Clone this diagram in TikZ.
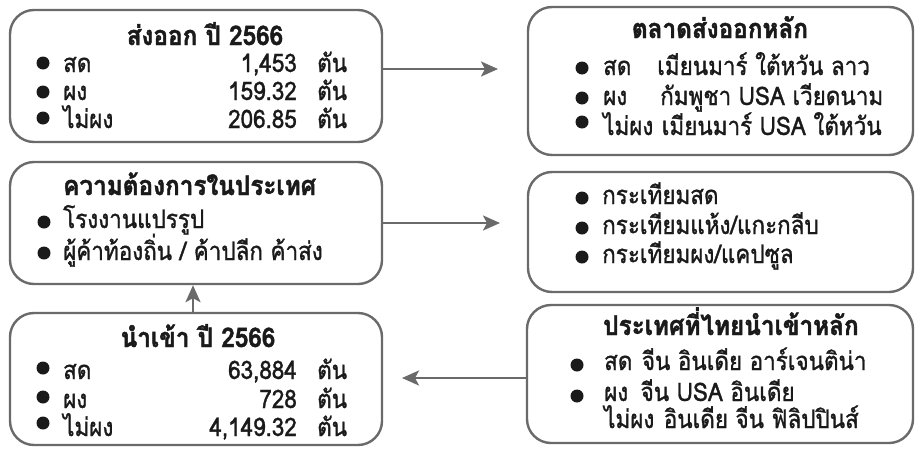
\documentclass[tikz,border=0pt]{standalone}
\usepackage{fontspec}
\setmainfont[Script=Thai, FakeStretch=0.88, FakeBold=1.2, BoldFeatures={FakeStretch=0.9, FakeBold=1.6}]{Loma}
\usetikzlibrary{arrows.meta,calc}
\definecolor{edgegray}{HTML}{6A6A6A}
\definecolor{inkc}{HTML}{1A1A1A}
\begin{document}
\begin{tikzpicture}[x=1pt,y=-1pt,
  box/.style={draw=edgegray, line width=2.4pt, rounded corners=24pt, inner sep=0pt},
  arr/.style={draw=edgegray, line width=2.6pt, -{Stealth[length=17pt,width=15pt,inset=4pt]}},
  txt/.style={inner sep=0pt, font=\fontsize{25.5}{27}\selectfont, text=inkc},
  ttl/.style={txt, font=\fontsize{27}{29}\selectfont\bfseries},
  dot/.style={fill=inkc}]
\useasboundingbox (0,0) rectangle (917,450);
\fill[white] (0,0) rectangle (917,450);

% boxes
\node[box, minimum width=372pt, minimum height=132pt] (b1) at (196,76) {};
\node[box, minimum width=385pt, minimum height=148pt] (b2) at (720.5,81) {};
\node[box, minimum width=372pt, minimum height=122pt] (b3) at (196,223) {};
\node[box, minimum width=385pt, minimum height=120pt] (b4) at (720.5,232) {};
\node[box, minimum width=372pt, minimum height=132pt] (b5) at (196,379) {};
\node[box, minimum width=386pt, minimum height=138pt] (b6) at (720,374) {};

% arrows
\coordinate (t1) at (498,69);
\coordinate (t2) at (500,223);
\coordinate (t3) at (402,378);
\draw[arr] (b1.east |- t1) -- (t1);
\draw[arr] (b3.east |- t2) -- (t2);
\draw[arr] (b6.west |- t3) -- (t3);
\draw[arr] (b5.north -| 193,0) -- (b3.south -| 193,0);

% box 1: export
\node[ttl, anchor=base] (h1) at (205,45) {ส่งออก ปี 2566};
\fill[dot] (43,63) circle (6.5);
\fill[dot] (43,92) circle (6.5);
\fill[dot] (43,118) circle (6.5);
\node[txt, anchor=base west] (e1l) at (63,72) {สด};
\node[txt, anchor=base west] (e2l) at (63,100) {ผง};
\node[txt, anchor=base west] (e3l) at (63,128) {ไม่ผง};
\node[txt, anchor=base east] (e1n) at (297,72) {1,453};
\node[txt, anchor=base east] (e2n) at (297,100) {159.32};
\node[txt, anchor=base east] (e3n) at (297,128) {206.85};
\node[txt, anchor=base west] (e1u) at (317,72) {ตัน};
\node[txt, anchor=base west] (e2u) at (317,100) {ตัน};
\node[txt, anchor=base west] (e3u) at (317,128) {ตัน};

% box 2: export markets
\node[ttl, anchor=base] (h2) at (720,38) {ตลาดส่งออกหลัก};
\fill[dot] (582,68) circle (6.5);
\fill[dot] (582,98) circle (6.5);
\fill[dot] (582,122) circle (6.5);
\node[txt, anchor=base west] (m1l) at (603,75) {สด};
\node[txt, anchor=base west] (m2l) at (603,105) {ผง};
\node[txt, anchor=base west] (m3l) at (603,135) {ไม่ผง};
\node[txt, anchor=base west] (m1c) at (657,75) {เมียนมาร์ ใต้หวัน ลาว};
\node[txt, anchor=base west] (m2c) at (660,105) {กัมพูชา USA เวียดนาม};
\node[txt, anchor=base west] (m3c) at ($(m3l.base east)+(8,0)$) {เมียนมาร์ USA ใต้หวัน};

% box 3: domestic demand
\node[ttl, anchor=base west] (h3) at (63,195) {ความต้องการในประเทศ};
\fill[dot] (44,222) circle (6.5);
\fill[dot] (44,253) circle (6.5);
\node[txt, anchor=base west] (d1) at (63,228) {โรงงานแปรรูป};
\node[txt, anchor=base west] (d2) at (63,260) {ผู้ค้าท้องถิ่น / ค้าปลีก ค้าส่ง};

% box 4: products
\fill[dot] (582,198) circle (6.5);
\fill[dot] (582,228) circle (6.5);
\fill[dot] (582,257) circle (6.5);
\node[txt, anchor=base west] (p1) at (602,204) {กระเทียมสด};
\node[txt, anchor=base west] (p2) at (602,234) {กระเทียมแห้ง/แกะกลีบ};
\node[txt, anchor=base west] (p3) at (602,263) {กระเทียมผง/แคปซูล};

% box 5: import
\node[ttl, anchor=base] (h5) at (198,347) {นำเข้า ปี 2566};
\fill[dot] (43,368) circle (6.5);
\fill[dot] (43,397) circle (6.5);
\fill[dot] (43,423) circle (6.5);
\node[txt, anchor=base west] (i1l) at (63,379) {สด};
\node[txt, anchor=base west] (i2l) at (63,408) {ผง};
\node[txt, anchor=base west] (i3l) at (63,436) {ไม่ผง};
\node[txt, anchor=base east] (i1n) at (297,379) {63,884};
\node[txt, anchor=base east] (i2n) at (297,408) {728};
\node[txt, anchor=base east] (i3n) at (297,436) {4,149.32};
\node[txt, anchor=base west] (i1u) at (317,379) {ตัน};
\node[txt, anchor=base west] (i2u) at (317,408) {ตัน};
\node[txt, anchor=base west] (i3u) at (317,436) {ตัน};

% box 6: import sources
\node[ttl, anchor=base west] (h6) at (603,335) {ประเทศที่ไทยนำเข้าหลัก};
\fill[dot] (577,365) circle (6.5);
\fill[dot] (577,396) circle (6.5);
\node[txt, anchor=base west] (s1l) at (604,370) {สด};
\node[txt, anchor=base west] (s2l) at (604,401) {ผง};
\node[txt, anchor=base west] (s3l) at (604,428) {ไม่ผง};
\node[txt, anchor=base west] (s1c) at ($(s1l.base east)+(9,0)$) {จีน อินเดีย อาร์เจนติน่า};
\node[txt, anchor=base west] (s2c) at ($(s2l.base east)+(12,0)$) {จีน USA อินเดีย};
\node[txt, anchor=base west] (s3c) at ($(s3l.base east)+(9,0)$) {อินเดีย จีน ฟิลิปปินส์};
\end{tikzpicture}
\end{document}
